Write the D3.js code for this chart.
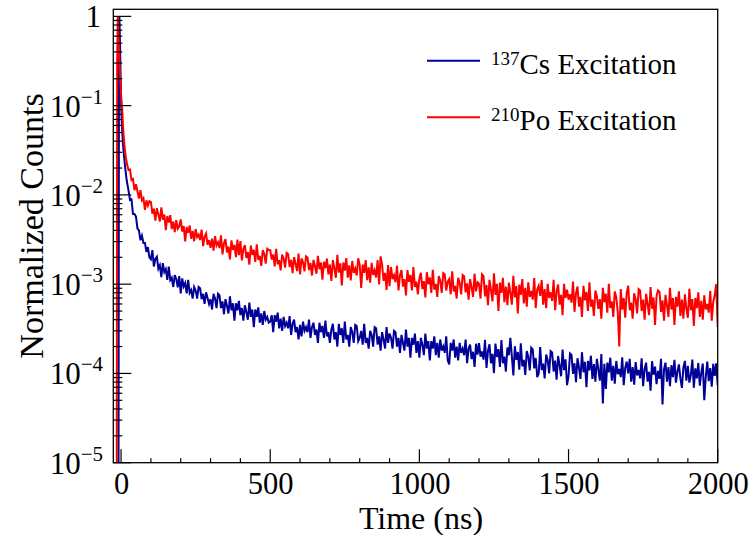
<!DOCTYPE html>
<html><head><meta charset="utf-8">
<script src="https://cdn.jsdelivr.net/npm/d3@7"></script>
<style>body{margin:0;background:#fff;} svg{display:block;}</style>
</head><body><svg id="c" width="755" height="535"></svg>
<script>
// ---------- data ----------
const seriesNames = ["137Cs Excitation", "210Po Excitation"];
const xTickValues = [0, 500, 1000, 1500, 2000];
const yTickExponents = [-5, -4, -3, -2, -1, 0];
const tailStart = 100, tailStep = 5; // tail bins: t = 100..2000 ns, values in units of 1e-5
// 137Cs early part (ns, normalized counts)
const csEarlyT = [-26, -9, -7, -5.5, -3, -1, 0.5, 2, 4, 7, 10, 14, 19, 24.6, 30, 35, 40, 45, 50, 55, 60, 65, 70, 75, 80, 85, 90, 95];
const csEarlyV = [1e-7, 1e-7, 0.3, 1.0, 0.4, 0.17, 0.1, 0.07, 0.05, 0.035, 0.027, 0.02, 0.0145, 0.0114, 0.0088, 0.0089, 0.0061, 0.0061, 0.0057, 0.0042, 0.0040, 0.0031, 0.0035, 0.0029, 0.0029, 0.0023, 0.0026, 0.0020];
// 137Cs tail (1e-5)
const csTail = [
 190, 241, 158, 192, 203, 149, 163, 120, 172, 137, 148, 112, 157, 111, 118, 93, 126, 114, 92, 123,
 79, 116, 94, 103, 79, 112, 80, 86, 69, 93, 85, 69, 93, 90, 68, 78, 60, 81, 70, 60,
 68, 52, 78, 69, 54, 78, 75, 54, 64, 46, 68, 57, 47, 73, 51, 61, 39, 61, 51, 65,
 45, 54, 39, 58, 48.5, 40, 62, 43, 52, 33, 52, 43, 55, 37, 47, 35, 50, 40, 43, 37,
 38, 45, 29, 45, 38, 48, 32, 41, 30, 43, 34, 37, 32, 44, 27, 36, 40, 29, 33, 24,
 35, 26, 38, 30, 33, 29, 40, 25, 33, 37, 27, 31, 22, 37, 29, 34, 25, 39, 26, 29,
 22, 31, 36, 24, 29, 20, 36, 27, 32, 22, 38, 24, 27, 20, 33, 29, 22, 35, 34, 23,
 25, 30, 21, 36, 22, 25, 19, 30, 27, 20, 33, 32, 21, 26, 18, 29, 24, 19, 33, 22,
 28, 25, 19, 30, 29, 20, 25, 17, 27, 22, 18, 31, 20, 25, 15, 25, 21, 28, 17, 23,
 15, 25, 21, 16, 28, 19, 23, 14, 23, 19, 26, 16, 22, 15, 24, 18, 20, 17, 26, 14,
 12.6, 22, 18, 24, 15, 20, 14, 22, 17, 19, 16, 24, 13, 19, 21, 14.5, 17.5, 11.8, 21.5, 16.2,
 21.9, 15.4, 17.6, 14.3, 23.8, 11.5, 18, 21.2, 13, 16.6, 10.1, 21.6, 15.3, 18.7, 11.8, 23.6, 13, 15.4, 10.5, 19.5,
 16, 25, 15.5, 9.5, 20.2, 14.2, 17.4, 11, 21.8, 12, 14.2, 9.6, 17.8, 15.4, 10.8, 19.4, 18.6, 11.4, 14.9, 9.1,
 10, 19.8, 10.9, 12.9, 8.8, 16.3, 14.2, 10, 17.8, 17.2, 10.5, 13.9, 8.5, 15.7, 12.3, 9.3, 18.5, 10.9, 14.4, 7.4,
 9.3, 16.7, 16.1, 9.9, 13, 8, 14.8, 11.6, 8.7, 17.3, 10.3, 13.5, 7, 13.8, 10.8, 15.8, 8.7, 12.7, 8.1, 14.6,
 11, 8.3, 16.5, 4.6, 12.8, 6.7, 13.2, 10.3, 15, 8.3, 12.2, 7.7, 13.8, 9.8, 11.2, 9.1, 15.2, 7.4, 11.5, 13.6,
 10, 14.6, 8.1, 11.8, 7.5, 13.4, 9.5, 10.9, 8.8, 14.8, 7.2, 11.1, 13.2, 8.1, 10.4, 6.4, 13.7, 9.7, 11.9, 7.6,
 10.7, 8.7, 14.6, 4.5, 11.1, 13.2, 8.1, 11.8, 7.2, 12.4, 9.1, 14.2, 7.9, 10.5, 12.6, 8.8, 6.9, 11.7, 13.8, 8.3,
 12.2, 7.9, 9.6, 14.3, 6.9, 11.4, 8.8, 13.1, 7.3, 10.2, 12.9, 5, 9.1, 13.6, 8.2, 11.5, 7.1, 12.8, 9.4, 13, 7.4
];
// 210Po early part
const poEarlyT = [-26, -15, -13, -11, -8, -5, -2, 1, 4, 6, 9, 12, 15.6, 20, 25, 30, 35, 40, 45, 50, 55, 60, 65, 70, 75, 80, 85, 90, 95];
const poEarlyV = [1e-7, 1e-7, 0.3, 1.0, 0.55, 0.3, 0.17, 0.12, 0.09, 0.063, 0.045, 0.034, 0.027, 0.022, 0.019, 0.0192, 0.0147, 0.0151, 0.0113, 0.0132, 0.0110, 0.0091, 0.0113, 0.0087, 0.0092, 0.0068, 0.0087, 0.0076, 0.0085];
// 210Po tail (1e-5)
const poTail = [
 835, 617, 700, 516, 711, 605, 504, 727, 528, 601, 403, 579, 491, 593, 414, 503, 382, 521, 418, 445,
 531, 389, 447, 302, 438, 375, 456, 323, 395, 302, 415, 337, 359, 312, 409, 267, 339, 369, 276, 311,
 255, 324, 237, 346, 272, 294, 254, 353, 215, 287, 319, 227, 264, 189, 310, 242, 275, 201, 316, 211,
 303, 185, 248, 274, 197, 229, 165, 271, 213, 242, 178, 279, 187, 208, 160, 240, 217, 170, 249, 241,
 240, 189, 215, 158, 249, 167, 186, 143, 215, 194, 153, 224, 218, 156, 187, 133, 201, 169, 140, 220,
 129, 194, 176, 139, 205, 199, 144, 173, 125, 187, 159, 131, 208, 147, 175, 112, 178, 151, 193, 129,
 166, 109, 186, 150, 118, 213, 135, 171, 97, 175, 142, 196, 118, 162, 110, 182, 134, 150, 125, 195,
 163, 91, 166, 134, 186, 111, 154, 104, 173, 127, 143, 119, 186, 99, 205, 166, 109, 134, 86, 164,
 95, 155, 114, 126, 105, 161, 85, 125, 144, 94, 114, 75, 144, 106, 127, 85, 155, 93, 107, 77,
 116, 134, 88, 108, 71, 136, 100, 119, 80, 145, 87, 101, 72, 123, 109, 80, 133, 129, 85, 107,
 114, 77, 139, 83, 96, 69, 118, 104, 77, 127, 123, 81, 102, 67, 114, 92, 72, 131, 83, 105,
 101, 69, 129, 123, 73, 98, 58, 112, 86, 64, 132, 76, 101, 50, 104, 80, 118, 63, 94, 58,
 104, 80, 59, 124, 71, 95, 47, 99, 76, 114, 61, 91, 56, 105, 72, 84, 67, 117, 54, 87,
 96, 74, 111, 59, 88, 54, 101, 70, 81, 65, 112, 51, 83, 99, 59, 76, 45, 101, 70, 87,
 67, 77, 62, 107, 49, 79, 94, 56, 72, 43, 96, 66, 82, 50, 105, 56, 67, 44, 85, 73,
 53, 68, 41, 91, 63, 78, 48, 101, 54, 64, 43, 83, 71, 49, 20, 88, 52, 70, 42, 80,
 96, 51, 62, 41, 79, 68, 47, 88, 85, 50, 67, 40, 78, 60, 45, 93, 53, 71, 35, 74,
 85, 82, 49, 66, 39, 76, 58, 43, 91, 52, 70, 35, 72, 56, 83, 44, 67, 41, 77, 53,
 42, 89, 51, 68, 34, 70, 54, 81, 43, 65, 40, 75, 52, 60, 48, 84, 39, 63, 75, 100, 33
];

// ---------- build ----------
function build(et, ev, tail) {
  const pts = et.map((t, i) => [t, ev[i]]);
  tail.forEach((v, i) => pts.push([tailStart + i * tailStep, v * 1e-5]));
  return pts;
}
const series = [
  {name: seriesNames[0], color: "#000099", pts: build(csEarlyT, csEarlyV, csTail), iso: "137", rest: "Cs Excitation"},
  {name: seriesNames[1], color: "#ff0000", pts: build(poEarlyT, poEarlyV, poTail), iso: "210", rest: "Po Excitation"}
];

const L = 113.3, R = 717.7, T = 9.3, B = 462.7;
const svg = d3.select("#c");
const font = "'Liberation Serif','Times New Roman',serif";
const x = d3.scaleLinear().domain([-26, 2000]).range([L, R]);
const y = d3.scaleLog().domain([1e-5, 1.2]).range([B, T]);

svg.append("rect").attr("width", 755).attr("height", 535).attr("fill", "#fff");

svg.append("clipPath").attr("id", "clip").append("rect")
  .attr("x", L).attr("y", T).attr("width", R - L).attr("height", B - T);

const line = d3.line().x(d => x(d[0])).y(d => y(Math.max(d[1], 1e-9)));
const g = svg.append("g").attr("clip-path", "url(#clip)");
series.forEach(s => {
  g.append("path").datum(s.pts).attr("d", line)
    .attr("fill", "none").attr("stroke", s.color).attr("stroke-width", 2)
    .attr("stroke-linejoin", "miter");
});

// frame
svg.append("rect").attr("x", L).attr("y", T).attr("width", R - L).attr("height", B - T)
  .attr("fill", "none").attr("stroke", "#000").attr("stroke-width", 1.3);

// x axis (ticks inside, pointing up)
const xMinor = d3.range(0, 2001, 100).filter(v => xTickValues.indexOf(v) < 0);
const xAxis = d3.axisBottom(x).tickValues(xTickValues).tickSize(0).tickFormat(d3.format("d"));
const xg = svg.append("g").attr("transform", `translate(0,${B})`).call(xAxis);
xg.select(".domain").remove();
xg.selectAll("text").attr("font-family", font).attr("font-size", 30.5).attr("fill", "#000").attr("dy", 0).attr("y", 31);
const xt = svg.append("g").attr("stroke", "#000").attr("stroke-width", 1.2);
xTickValues.forEach(v => xt.append("line").attr("x1", x(v)).attr("x2", x(v)).attr("y1", B).attr("y2", B - 13.5));
xMinor.forEach(v => xt.append("line").attr("x1", x(v)).attr("x2", x(v)).attr("y1", B).attr("y2", B - 4.5));

// y axis
const yt = svg.append("g").attr("stroke", "#000").attr("stroke-width", 1.2);
yTickExponents.forEach(e => {
  const v = Math.pow(10, e);
  yt.append("line").attr("x1", L).attr("x2", L + 18).attr("y1", y(v)).attr("y2", y(v));
  if (e < 0) for (let k = 2; k <= 9; k++) {
    const vv = k * v;
    yt.append("line").attr("x1", L).attr("x2", L + 9).attr("y1", y(vv)).attr("y2", y(vv));
  }
});
const yl = svg.append("g").attr("font-family", font).attr("fill", "#000");
yTickExponents.forEach(e => {
  const v = Math.pow(10, e);
  const t = yl.append("text").attr("x", e === 0 ? 101 : 103).attr("y", y(v) + 11)
    .attr("text-anchor", "end").attr("font-size", 31);
  if (e === 0) { t.text("1"); }
  else {
    t.append("tspan").text("10");
    t.append("tspan").attr("font-size", 21).attr("dy", -13).text("\u2212" + Math.abs(e));
  }
});

// titles
svg.append("text").attr("x", 421).attr("y", 529).attr("text-anchor", "middle")
  .attr("font-family", font).attr("font-size", 32).text("Time (ns)");
svg.append("text").attr("transform", "translate(43,226) rotate(-90)").attr("text-anchor", "middle")
  .attr("font-family", font).attr("font-size", 34).text("Normalized Counts");

// legend
const lg = svg.append("g");
series.forEach((s, i) => {
  const ly = 60.7 + i * 56.6;
  lg.append("line").attr("x1", 427).attr("x2", 480).attr("y1", ly).attr("y2", ly)
    .attr("stroke", s.color).attr("stroke-width", 2);
  const t = lg.append("text").attr("x", 491).attr("y", ly + 12.8)
    .attr("font-family", font).attr("font-size", 29);
  t.append("tspan").attr("font-size", 19).attr("dy", -9).text(s.iso);
  t.append("tspan").attr("dy", 9).text(s.rest);
});
</script>
</body></html>
